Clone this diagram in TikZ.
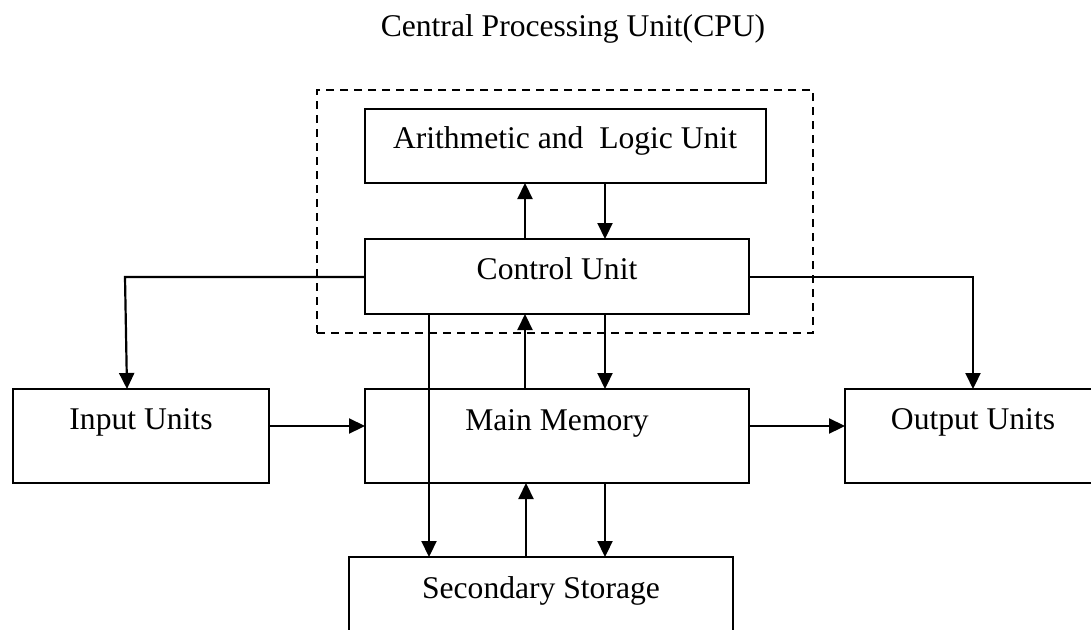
\documentclass[tikz,border=0pt]{standalone}
\usepackage{fontspec}
\setmainfont{Liberation Serif}
\usetikzlibrary{arrows.meta,calc}
\begin{document}
\begin{tikzpicture}[x=1pt,y=-1pt,
  box/.style={draw,line width=2pt,inner sep=0pt,outer sep=0pt},
  lbl/.style={anchor=base,inner sep=0pt,font=\fontsize{31.6}{38}\selectfont},
  arr/.style={line width=2.2pt,-{Triangle[width=15pt,length=16pt]}},
  conn/.style={line width=2pt}]
\useasboundingbox (0,0) rectangle (1091,629);
% title
\node[lbl] (title) at (573,36) {Central Processing Unit(CPU)};
% dashed CPU frame
\node[draw,line width=1.6pt,dash pattern=on 8pt off 6pt,inner sep=0pt,
  minimum width=496pt,minimum height=243pt] (cpu) at (565,211.5) {};
% boxes
\node[box,minimum width=401pt,minimum height=74pt] (alu) at (565.5,146) {};
\node[box,minimum width=384pt,minimum height=75pt] (cu) at (557,276.5) {};
\node[box,minimum width=256pt,minimum height=94pt] (in) at (141,436) {};
\node[box,minimum width=384pt,minimum height=94pt] (mm) at (557,436) {};
\node[box,minimum width=256pt,minimum height=94pt] (out) at (973,436) {};
\node[box,minimum width=384pt,minimum height=100pt] (ss) at (541,607) {};
% labels
\node[lbl] (alut) at (565,148) {Arithmetic and\ \ Logic Unit};
\node[lbl] (cut) at (557,279) {Control Unit};
\node[lbl] (int) at (141,429) {Input Units};
\node[lbl] (mmt) at (557,430) {Main Memory};
\node[lbl] (outt) at (973,429) {Output Units};
\node[lbl] (sst) at (541,598) {Secondary Storage};
% helper x positions
\coordinate (xa) at (525,0);
\coordinate (xb) at (605,0);
\coordinate (xc) at (429,0);
\coordinate (xd) at (526,0);
\coordinate (yh) at (0,426);
\coordinate (yc) at (0,277);
\coordinate (lc) at (125,277);
\coordinate (rc) at (973,277);
% connectors
\draw[arr] (cu.north -| xa) -- (alu.south -| xa);
\draw[arr] (alu.south -| xb) -- (cu.north -| xb);
\draw[arr] (mm.north -| xa) -- (cu.south -| xa);
\draw[arr] (cu.south -| xb) -- (mm.north -| xb);
\draw[arr] (cu.south -| xc) -- (ss.north -| xc);
\draw[arr] (ss.north -| xd) -- (mm.south -| xd);
\draw[arr] (mm.south -| xb) -- (ss.north -| xb);
\draw[arr] (in.east |- yh) -- (mm.west |- yh);
\draw[arr] (mm.east |- yh) -- (out.west |- yh);
\draw[arr] (cu.west |- yc) -- (lc) -- ($(in.north west)+(114,0)$);
\draw[arr] (cu.east |- yc) -- (rc) -- (out.north);
\end{tikzpicture}
\end{document}
